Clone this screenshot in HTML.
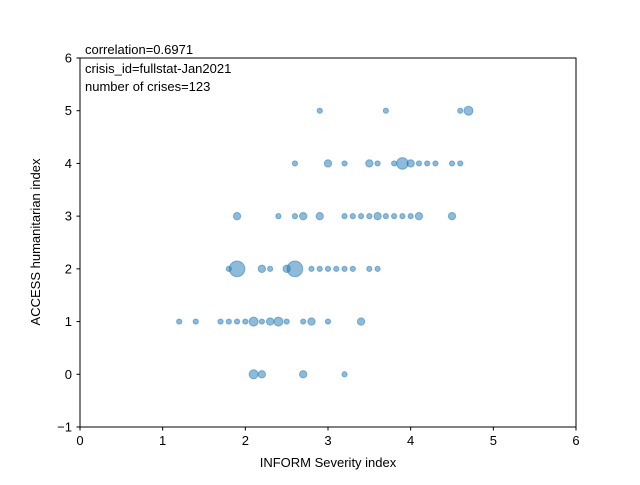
<!DOCTYPE html>
<html><head><meta charset="utf-8"><style>
body{margin:0;background:#fff;}
svg text{font-family:"Liberation Sans","DejaVu Sans",sans-serif;}
</style></head><body>
<svg id="chart" width="640" height="480" xmlns="http://www.w3.org/2000/svg">
<rect width="640" height="480" fill="#fff"/>
<g id="ticks"></g>
<g id="marks"></g>
<rect x="80" y="58" width="496" height="369" fill="none" stroke="#000" stroke-width="1"/>
<text x="85" y="54" font-size="13">correlation=0.6971</text>
<text x="85" y="73" font-size="13">crisis_id=fullstat-Jan2021</text>
<text x="85" y="91" font-size="13">number of crises=123</text>
<text x="328" y="467" font-size="13" text-anchor="middle">INFORM Severity index</text>
<text x="40" y="242" font-size="13" text-anchor="middle" transform="rotate(-90 40 242)">ACCESS humanitarian index</text>
</svg>
<script>
const xTicks=[0,1,2,3,4,5,6];
const yTicks=[-1,0,1,2,3,4,5,6];
const xs=[1.2,1.4,1.7,1.8,1.9,2.0,2.1,2.2,2.3,2.4,2.5,2.7,2.8,3.0,3.4,
2.1,2.2,2.7,3.2,
1.9,2.4,2.6,2.7,2.9,3.2,3.3,3.4,3.5,3.6,3.7,3.8,3.9,4.0,4.1,4.5,
1.8,1.9,2.2,2.3,2.5,2.6,2.8,2.9,3.0,3.1,3.2,3.3,3.5,3.6,
2.6,3.0,3.2,3.5,3.6,3.8,3.9,4.0,4.1,4.2,4.3,4.5,4.6,
2.9,3.7,4.6,4.7];
const ys=[1,1,1,1,1,1,1,1,1,1,1,1,1,1,1,
0,0,0,0,
3,3,3,3,3,3,3,3,3,3,3,3,3,3,3,3,
2,2,2,2,2,2,2,2,2,2,2,2,2,2,
4,4,4,4,4,4,4,4,4,4,4,4,4,
5,5,5,5];
const counts=[1,1,1,1,1,1,3,1,2,3,1,1,2,1,2,
3,2,2,1,
2,1,1,2,2,1,1,1,1,2,1,1,1,1,2,2,
1,9,2,1,2,9,1,1,1,1,1,1,1,1,
1,2,1,2,1,1,5,2,1,1,1,1,1,
1,1,1,3];
const X0=80,X1=576,Y0=427,Y1=58;
function sx(v){return X0+(v-0)/(6-0)*(X1-X0);}
function sy(v){return Y0-(v+1)/(6+1)*(Y0-Y1);}
const NS="http://www.w3.org/2000/svg";
const tg=document.getElementById('ticks'),mg=document.getElementById('marks');
function mk(t,a,p){const e=document.createElementNS(NS,t);for(const k in a)e.setAttribute(k,a[k]);p.appendChild(e);return e;}
xTicks.forEach(v=>{
 const l=mk('line',{x1:sx(v),x2:sx(v),y1:427,y2:430.5,stroke:'#000'},tg);
 
 
 const t=mk('text',{x:sx(v),y:445,'font-size':13,'text-anchor':'middle'},tg);t.textContent=v;
 
 
});
yTicks.forEach(v=>{
 const l=mk('line',{x1:76.5,x2:80,y1:sy(v),y2:sy(v),stroke:'#000'},tg);
 
 
 const t=mk('text',{x:72,y:sy(v)+4.5,'font-size':13,'text-anchor':'end'},tg);t.textContent=v<0?'\u2212'+(-v):v;
 
 
});
xs.forEach((v,i)=>{
 const c=mk('circle',{cx:sx(v),cy:sy(ys[i]),r:2.6*Math.sqrt(counts[i]),fill:'#1f77b4','fill-opacity':0.5,stroke:'#1f77b4','stroke-opacity':0.5},mg);
 
 
});
</script>
</body></html>
